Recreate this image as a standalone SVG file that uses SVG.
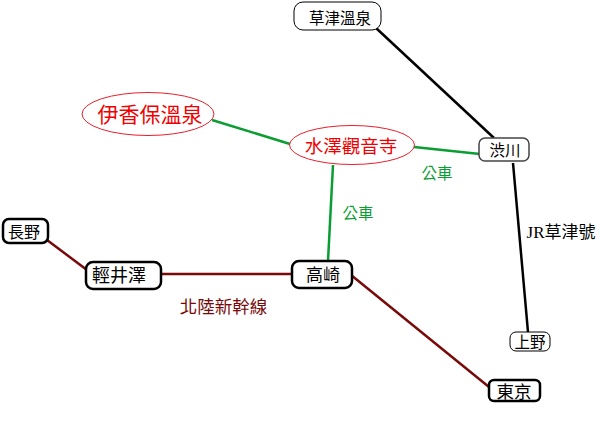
<svg xmlns="http://www.w3.org/2000/svg" width="600" height="425" viewBox="0 0 600 425">
<style>
text{font-family:"Liberation Serif","Noto Sans CJK TC",serif;text-anchor:middle;dominant-baseline:central}
.box{fill:#fff;stroke:#000}
.thick{stroke-width:2.5}
.thin{stroke-width:1}
.oval{fill:#fff;stroke:#e8202c;stroke-width:1}
.red{fill:#f00000}
.con{fill:none;stroke-width:2.5;stroke-linecap:butt}
.g{stroke:#0a9e32}.k{stroke:#000}.m{stroke:#780a0a}
</style>
<rect width="600" height="425" fill="#fff"/>
<g id="connectors">
<line class="con k" x1="376" y1="28" x2="494" y2="138"/>
<line class="con k" x1="513" y1="163" x2="528" y2="332"/>
<line class="con g" x1="212" y1="120" x2="290" y2="144"/>
<line class="con g" x1="414" y1="147" x2="480" y2="154"/>
<line class="con g" x1="333" y1="165" x2="328" y2="261"/>
<line class="con m" x1="47" y1="240" x2="87" y2="270"/>
<line class="con m" x1="161" y1="274" x2="293" y2="274"/>
<line class="con m" x1="351" y1="275" x2="489" y2="387"/>
</g>
<g id="kusatsu"><rect class="box thin" x="294" y="2" width="87" height="28" rx="9"/><text x="340" y="18" font-size="15.500">草津溫泉</text></g>
<g id="shibukawa"><rect class="box thin" x="479" y="138" width="50" height="23" rx="6" style="stroke:#444;stroke-width:1.500"/><text x="505" y="150" font-size="15.500">渋川</text></g>
<g id="ueno"><rect class="box thin" x="510" y="332" width="40" height="19" rx="6"/><text x="530" y="342" font-size="15.500">上野</text></g>
<g id="ikaho"><ellipse class="oval" cx="148" cy="114" rx="66" ry="21.500"/><text class="red" x="150" y="115" font-size="21">伊香保溫泉</text></g>
<g id="mizusawa"><ellipse class="oval" cx="352" cy="145" rx="62.500" ry="19.500"/><text class="red" x="351" y="147" font-size="18.500">水澤觀音寺</text></g>
<g id="nagano"><rect class="box thick" x="3" y="219" width="45" height="24" rx="6"/><text x="24" y="232" font-size="16">長野</text></g>
<g id="karuizawa"><rect class="box thick" x="86" y="262" width="75" height="27" rx="7"/><text x="119" y="276" font-size="18">輕井澤</text></g>
<g id="takasaki"><rect class="box thick" x="292" y="261" width="60" height="27" rx="7"/><text x="323" y="275" font-size="17">高崎</text></g>
<g id="tokyo"><rect class="box thick" x="489" y="380" width="51" height="21" rx="5"/><text x="514" y="392" font-size="17.500">東京</text></g>
<text x="437" y="173" font-size="15.500" fill="#0a9e32">公車</text>
<text x="358" y="213" font-size="15.500" fill="#0a9e32">公車</text>
<text x="223.500" y="307" font-size="17.500" fill="#780a0a">北陸新幹線</text>
<text x="561" y="232" font-size="17" fill="#000">JR草津號</text>
</svg>
